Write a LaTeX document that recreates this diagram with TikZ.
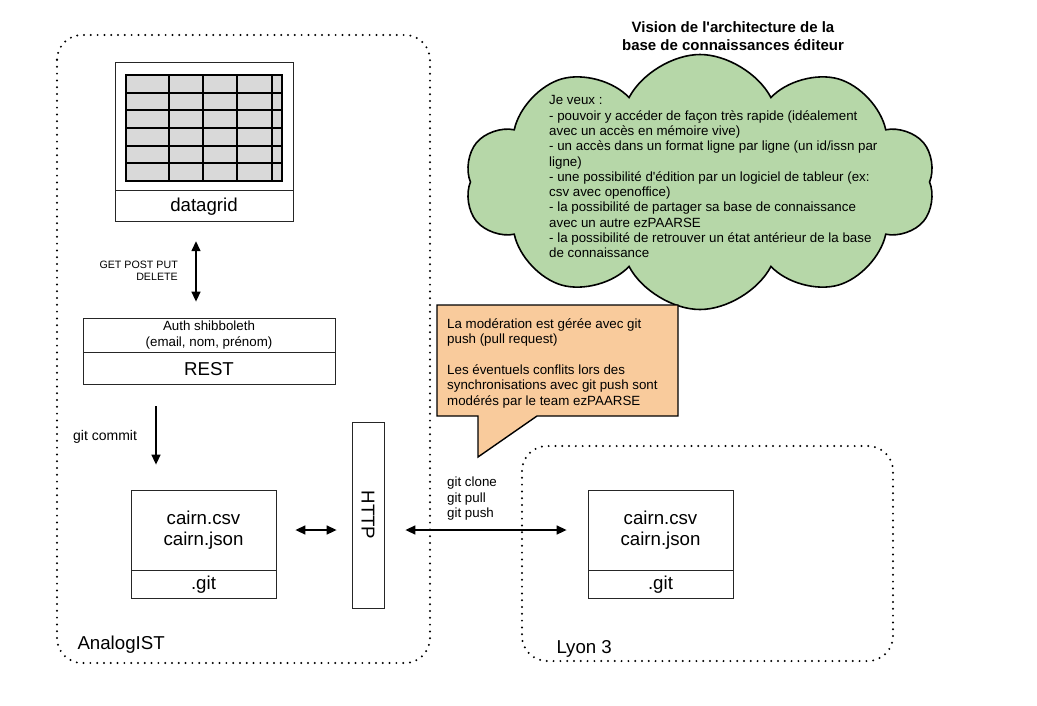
\documentclass[tikz,border=0pt]{standalone}
\usepackage{fontspec}
\newfontfamily\arialfont{Liberation Sans}
\usetikzlibrary{positioning,shapes.symbols,arrows.meta,calc}
\definecolor{cloudgreen}{HTML}{B6D7A8}
\definecolor{noteorange}{HTML}{F9CB9C}
\definecolor{gridgray}{HTML}{D9D9D9}
\newcommand{\fsz}[2]{\fontsize{#1}{#2}\selectfont}

\tikzset{
	box/.style={draw=black!85, line width=0.8pt, inner sep=0pt, align=center},
	bigtxt/.style={font=\arialfont\fsz{18.67}{21.5}},
	midtxt/.style={font=\arialfont\fsz{13.33}{15.3}},
	smalltxt/.style={font=\arialfont\fsz{10.67}{12}},
	dots/.style={line width=2.2pt, dash pattern=on 0pt off 6.8pt, line cap=round},
	gridline/.style={line width=2pt, line cap=rect},
	tip/.style={-{Triangle[length=10pt,width=9pt]}, line width=1.5pt},
	dbltip/.style={{Triangle[length=10pt,width=9pt]}-{Triangle[length=10pt,width=9pt]}, line width=1.5pt},
}

\begin{document}
\begin{tikzpicture}[x=1pt,y=-1pt]
	\useasboundingbox (0,0) rectangle (1037,705);

	% Sites
	\draw[dots, rounded corners=25pt] (57,35) rectangle (430,663);
	\draw[dots, rounded corners=25pt] (522,446) rectangle (893,661);
	\node[bigtxt, anchor=west] (analog) at (74,645) {AnalogIST};
	\node[bigtxt, anchor=west] (lyon) at (553,649) {Lyon 3};

	% Title and cloud
	\node[align=center, font=\arialfont\bfseries\fsz{15}{18}] (title) at (733,36) {Vision de l'architecture de la\\base de connaissances éditeur};
	\node[cloud, cloud puffs=10, cloud puff arc=125, cloud ignores aspect, draw, line width=1.6pt,
		fill=cloudgreen, minimum width=470, minimum height=255] (cloud) at (700,182) {};
	\node[midtxt, align=left, anchor=north west, inner sep=0pt] (wish) at (549,95.5) {Je veux :\\
		- pouvoir y accéder de façon très rapide (idéalement\\
		avec un accès en mémoire vive)\\
		- un accès dans un format ligne par ligne (un id/issn par\\
		ligne)\\
		- une possibilité d'édition par un logiciel de tableur (ex:\\
		csv avec openoffice)\\
		- la possibilité de partager sa base de connaissance\\
		avec un autre ezPAARSE\\
		- la possibilité de retrouver un état antérieur de la base\\
		de connaissance};

	% Callout
	\draw[line width=1.4pt, fill=noteorange] (437,305) -- (678,305) -- (678,416) -- (537,416)
		-- (478,457) -- (478,416) -- (437,416) -- cycle;
	\node[midtxt, align=left, anchor=north west, inner sep=0pt] (note) at (447,318.5) {La modération est gérée avec git\\
		push (pull request)\\[15.3pt]
		Les éventuels conflits lors des\\
		synchronisations avec git push sont\\
		modérés par le team ezPAARSE};

	% Datagrid
	\node[box, minimum width=178, minimum height=128] (grid) at (204,126) {};
	\node[box, bigtxt, minimum width=178, minimum height=31, below=0pt of grid] (gridlabel) {datagrid};
	\fill[gridgray] (126,75) rectangle (282,181);
	\foreach \k in {0,...,6}
		\draw[gridline] (126,{75+\k*17.67}) -- (282,{75+\k*17.67});
	\foreach \x in {126,169,203,237,272,282}
		\draw[gridline] (\x,75) -- (\x,181);

	% REST
	\node[box, midtxt, minimum width=252, minimum height=34] (auth) at (209,335) {Auth shibboleth\\(email, nom, prénom)};
	\node[box, bigtxt, minimum width=252, minimum height=32, below=0pt of auth] (rest) {REST};

	% Repositories
	\node[box, bigtxt, minimum width=145, minimum height=80] (csvA) at (203.5,530) {cairn.csv\\cairn.json};
	\node[box, bigtxt, minimum width=145, minimum height=28, below=0pt of csvA] (gitA) {.git};
	\node[box, minimum width=32, minimum height=186,
		label={[bigtxt, rotate=-90]center:HTTP}] (http) at (368,515) {};
	\node[box, bigtxt, minimum width=145, minimum height=80] (csvB) at (660.5,530) {cairn.csv\\cairn.json};
	\node[box, bigtxt, minimum width=145, minimum height=28, below=0pt of csvB] (gitB) {.git};

	% Labels
	\node[smalltxt, align=right, anchor=north east, inner sep=0pt] (verbs) at (178,261) {GET POST PUT\\DELETE};
	\node[font=\arialfont\fsz{14}{16}, anchor=west, inner sep=0pt] (commit) at (73,437) {git commit};
	\node[midtxt, align=left, anchor=north west, inner sep=0pt] (sync) at (447,477) {git clone\\git pull\\git push};

	% Arrows
	\draw[dbltip, shorten <=19pt, shorten >=16pt] ([xshift=-8pt]gridlabel.south) -- ([xshift=-8pt]gridlabel.south |- auth.north);
	\draw[tip, shorten <=21pt, shorten >=25pt] ([xshift=-53pt]rest.south) -- ([xshift=-53pt]rest.south |- csvA.north);
	\draw[dbltip, shorten <=19pt, shorten >=15pt] (csvA.east) -- (http.west |- csvA.east);
	\draw[dbltip, shorten <=21pt, shorten >=21pt] (http.east |- csvB.west) -- (csvB.west);
\end{tikzpicture}
\end{document}
